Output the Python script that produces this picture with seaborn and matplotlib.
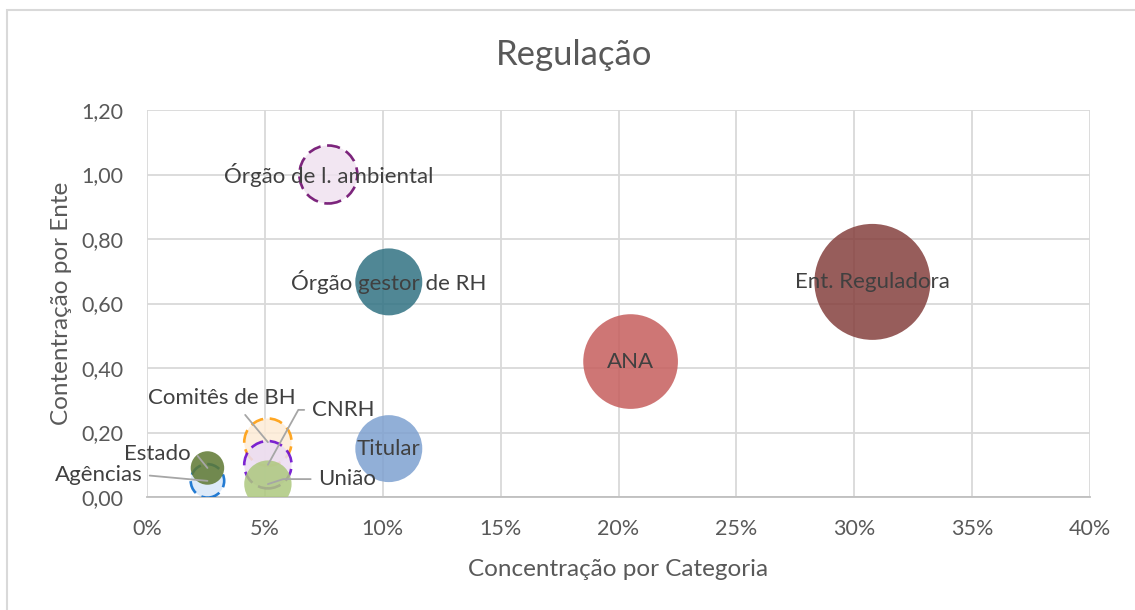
import numpy as np
import pandas as pd
import matplotlib.pyplot as plt
import matplotlib.ticker as mticker
from matplotlib.patches import Rectangle
import seaborn as sns

# data (draw order matters: later points sit on top)
entes = ["Ent. Reguladora", "ANA", "Órgão gestor de RH", "Titular",
         "Órgão de l. ambiental", "Comitês de BH", "CNRH", "União",
         "Agências", "Estado"]
contagem = [12, 8, 4, 4, 3, 2, 2, 2, 1, 1]
conc_categoria = [c / 39 for c in contagem]
conc_ente = [0.667, 0.42, 0.667, 0.15, 1.00, 0.17, 0.10, 0.04, 0.05, 0.09]

fill_colors = ["#85403E", "#C65E5D", "#317283", "#7EA1D0", "#F0E2F0",
               "#FDEBD6", "#EBDCF3", "#ADC87E", "#D8E7F9", "#5E7831"]
edge_colors = ["none", "none", "none", "none", "#660066",
               "#FF9900", "#6600CC", "none", "#0066CC", "none"]

df = pd.DataFrame({"ente": entes, "x": conc_categoria, "y": conc_ente, "n": contagem})

sns.set_theme(style="white")
plt.rcParams["font.family"] = ["Lato", "DejaVu Sans"]

fig = plt.figure(figsize=(11.35, 6.1), dpi=100)
ax = fig.add_axes([147 / 1135, 1 - 497 / 610, (1090 - 147) / 1135, (497 - 110) / 610])

dash = (0, (5, 2.5))
lss = ["solid" if e == "none" else dash for e in edge_colors]
lws = [0 if e == "none" else 1.9 for e in edge_colors]

sns.scatterplot(data=df, x="x", y="y", hue="ente", palette=dict(zip(entes, fill_colors)),
                size="n", sizes=(0, 581 * 12), size_norm=(0, 12), alpha=0.85,
                edgecolor=edge_colors, linewidth=lws, linestyle=lss,
                legend=False, ax=ax, zorder=3)
# dashed edges fully opaque
coll = ax.collections[-1]
coll.set_edgecolor([e if e != "none" else (0, 0, 0, 0) for e in edge_colors])

ax.set_xlim(0, 0.40)
ax.set_ylim(0, 1.20)
ax.set_xticks(np.arange(0, 0.401, 0.05))
ax.set_yticks(np.arange(0, 1.201, 0.2))
ax.xaxis.set_major_formatter(mticker.FuncFormatter(lambda v, p: f"{v * 100:.0f}%"))
ax.yaxis.set_major_formatter(mticker.FuncFormatter(lambda v, p: f"{v:.2f}".replace(".", ",")))
ax.tick_params(axis="both", length=0, labelsize=15.5, labelcolor="#595959")
ax.tick_params(axis="x", pad=16)
ax.tick_params(axis="y", pad=17)
ax.grid(True, color="#D9D9D9", linewidth=1.3, zorder=0)
ax.set_axisbelow(True)
for s in ["top", "right", "left"]:
    ax.spines[s].set_visible(False)
ax.spines["bottom"].set_color("#BFBFBF")
ax.spines["bottom"].set_linewidth(1.3)

ax.set_xlabel("Concentração por Categoria", fontsize=17.5, color="#595959", labelpad=14)
ax.set_ylabel("Contentração por Ente", fontsize=17.5, color="#595959", labelpad=7)
fig.text(574 / 1135, 1 - 55 / 610, "Regulação", ha="center", va="center",
         fontsize=25, color="#595959")

# labels centred on big bubbles
lab_color = "#404040"
for nome in ["Ent. Reguladora", "ANA", "Órgão gestor de RH", "Titular", "Órgão de l. ambiental"]:
    i = entes.index(nome)
    ax.text(conc_categoria[i], conc_ente[i], nome, ha="center", va="center",
            fontsize=16, color=lab_color, zorder=5)

# labels with leader lines: (dx, dy in points, relpos, connection)
leaders = {
    "Comitês de BH": (-33, 31.5, (0.62, 0), "arc3"),
    "CNRH": (54, 39.5, (0, 0.5), "angle,angleA=180,angleB=61,rad=0"),
    "União": (57, 3.6, (0, 0.5), "angle,angleA=180,angleB=18,rad=0"),
    "Estado": (-36, 10, (1, 0.5), "angle,angleA=0,angleB=129,rad=0"),
    "Agências": (-78.5, 4.3, (1, 0.5), "arc3"),
}
for nome, (dx, dy, rp, cs) in leaders.items():
    i = entes.index(nome)
    ax.annotate(nome, xy=(conc_categoria[i], conc_ente[i]), xytext=(dx, dy),
                textcoords="offset points", ha="center", va="center",
                fontsize=16, color=lab_color, annotation_clip=False, zorder=6,
                arrowprops=dict(arrowstyle="-", color="#A6A6A6", lw=1.3,
                                shrinkA=3, shrinkB=0, relpos=rp, connectionstyle=cs))

# chart area border
fig.patches.append(Rectangle((7 / 1135, -0.1), 1.2, 1 - 10 / 610 + 0.1,
                             transform=fig.transFigure, fill=False,
                             edgecolor="#D9D9D9", linewidth=1.5))

fig.savefig("out.png", dpi=100)
